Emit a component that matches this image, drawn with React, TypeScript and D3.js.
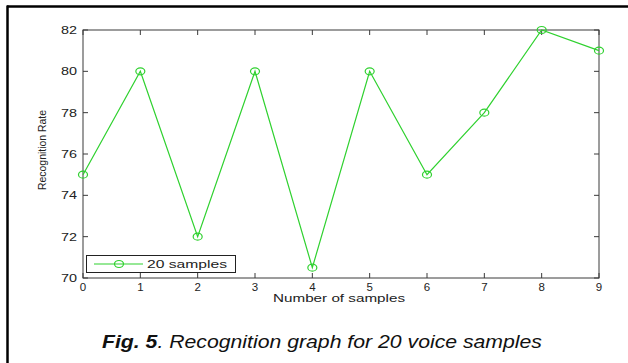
import React from "react";
import * as d3 from "d3";

const samples = [0, 1, 2, 3, 4, 5, 6, 7, 8, 9];
const rates = [75, 80, 72, 80, 70.5, 80, 75, 78, 82, 81];
const yTicks = [70, 72, 74, 76, 78, 80, 82];
const xTicks = [0, 1, 2, 3, 4, 5, 6, 7, 8, 9];
const seriesName = "20 samples";
const xLabel = "Number of samples";
const yLabel = "Recognition Rate";

const W = 628;
const H = 363;
const plot = { left: 83, top: 30, right: 599, bottom: 278 };
const green = "#2fd12f";
const axisColor = "#3a3a3a";
const font = "'Liberation Sans', Arial, Helvetica, sans-serif";

export default function App() {
  const x = d3.scaleLinear().domain([0, 9]).range([plot.left, plot.right]);
  const y = d3.scaleLinear().domain([70, 82]).range([plot.bottom, plot.top]);
  const line = d3
    .line<number>()
    .x((_, i) => x(samples[i]))
    .y((d) => y(d));
  const tl = 5;
  return (
    <svg
      width={W}
      height={H}
      style={{ position: "absolute", left: 0, top: 0, background: "#fff" }}
    >
      <rect x={0} y={0} width={W} height={H} fill="#fff" />
      {/* outer frame (top and left) */}
      <line x1={7} y1={6.5} x2={W} y2={6.5} stroke="#000" strokeWidth={2.5} />
      <line x1={7.5} y1={5.5} x2={7.5} y2={H} stroke="#000" strokeWidth={2.5} />

      {/* plot box */}
      <rect
        x={plot.left}
        y={plot.top}
        width={plot.right - plot.left}
        height={plot.bottom - plot.top}
        fill="none"
        stroke={axisColor}
        strokeWidth={1}
      />
      {xTicks.map((t) => (
        <g key={"x" + t}>
          <line x1={x(t)} x2={x(t)} y1={plot.bottom} y2={plot.bottom - tl} stroke={axisColor} />
          <line x1={x(t)} x2={x(t)} y1={plot.top} y2={plot.top + tl} stroke={axisColor} />
          <text
            x={x(t)}
            y={291}
            textAnchor="middle"
            fontFamily={font}
            fontSize={11.5}
            fill="#222"
          >
            {t}
          </text>
        </g>
      ))}
      {yTicks.map((t) => (
        <g key={"y" + t}>
          <line x1={plot.left} x2={plot.left + tl} y1={y(t)} y2={y(t)} stroke={axisColor} />
          <line x1={plot.right} x2={plot.right - tl} y1={y(t)} y2={y(t)} stroke={axisColor} />
          <text
            x={61}
            y={y(t) + 4}
            textLength={16}
            lengthAdjust="spacingAndGlyphs"
            fontFamily={font}
            fontSize={11.5}
            fill="#222"
          >
            {t}
          </text>
        </g>
      ))}
      <text
        x={273}
        y={302}
        textLength={132}
        lengthAdjust="spacingAndGlyphs"
        fontFamily={font}
        fontSize={11}
        fill="#222"
      >
        {xLabel}
      </text>
      <text
        transform={`translate(46,150) rotate(-90)`}
        textAnchor="middle"
        fontFamily={font}
        fontSize={11}
        textLength={80}
        lengthAdjust="spacingAndGlyphs"
        fill="#222"
      >
        {yLabel}
      </text>

      {/* series */}
      <path d={line(rates) || ""} fill="none" stroke={green} strokeWidth={1.2} />
      {rates.map((v, i) => (
        <ellipse
          key={i}
          cx={x(samples[i])}
          cy={y(v)}
          rx={4.5}
          ry={3.5}
          fill="none"
          stroke={green}
          strokeWidth={1.2}
        />
      ))}

      {/* legend */}
      <rect x={86.5} y={255.5} width={149} height={17} fill="#fff" stroke="#222" strokeWidth={1} />
      <line x1={94} x2={143} y1={264} y2={264} stroke={green} strokeWidth={1.2} />
      <ellipse cx={119} cy={264} rx={4.5} ry={3.5} fill="none" stroke={green} strokeWidth={1.2} />
      <text
        x={147}
        y={268}
        textLength={80}
        lengthAdjust="spacingAndGlyphs"
        fontFamily={font}
        fontSize={11.5}
        fill="#222"
      >
        {seriesName}
      </text>

      {/* caption */}
      <text
        x={102}
        y={348}
        textLength={440}
        lengthAdjust="spacingAndGlyphs"
        fontFamily={font}
        fontSize={19}
        fontStyle="italic"
        fill="#111"
      >
        <tspan fontWeight="bold">Fig. 5</tspan>. Recognition graph for 20 voice samples
      </text>
    </svg>
  );
}
